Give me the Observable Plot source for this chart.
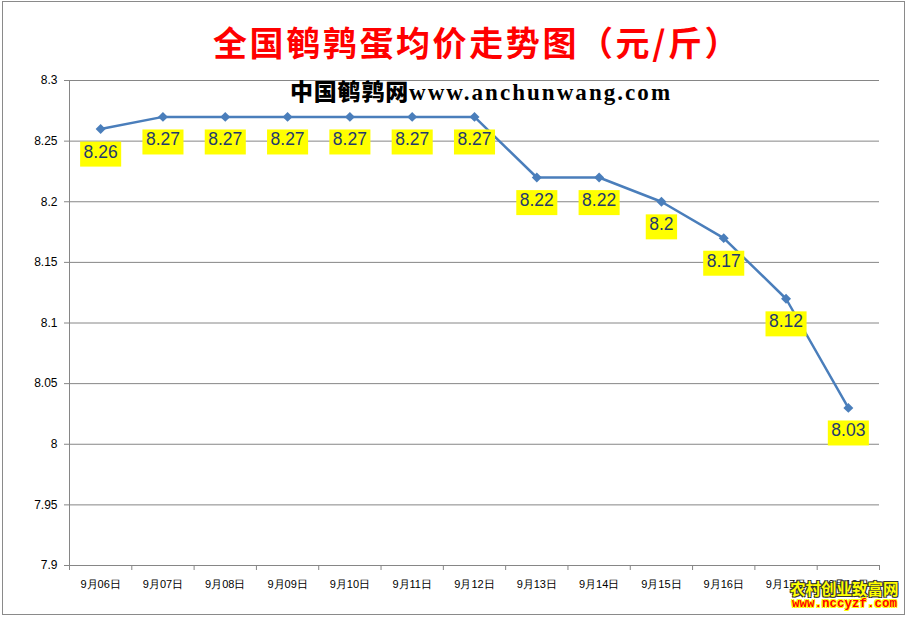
<!DOCTYPE html>
<html>
<head>
<meta charset="utf-8">
<script src="https://cdn.jsdelivr.net/npm/d3@7"></script>
<script src="https://cdn.jsdelivr.net/npm/@observablehq/plot@0.6"></script>
<style>
  html, body { margin: 0; padding: 0; background: #fff; }
  #wrap { position: relative; width: 907px; height: 617px; overflow: hidden; background: #fff; }
  #border { position: absolute; left: 2px; top: 1px; width: 903px; height: 614px; box-sizing: border-box; border: 1px solid #8a8a8a; pointer-events: none; }
  #title { height: 62px; position: relative; }
  #title span { position: absolute; left: 213px; top: 25px; font: bold 34px/34px "Noto Sans CJK SC", sans-serif; color: #ff0000; white-space: nowrap; letter-spacing: 2.6px; }
  #subtitle { position: absolute; left: 290px; top: 73px; white-space: nowrap; line-height: 24px; color: #000; z-index: 2; }
  #subtitle .cn { font: 900 23px "Noto Sans CJK SC", sans-serif; letter-spacing: 0.8px; }
  #subtitle .en { font: bold 23px "Liberation Serif", serif; letter-spacing: 2.05px; }
  #chart { position: absolute; left: 0; top: 62px; }
  #wm { position: absolute; left: 790px; top: 580px; z-index: 3; white-space: nowrap; }
  #wm .a { font: bold 15.5px/17px "Noto Sans CJK SC", sans-serif; color: #ffff00;
           text-shadow: -1px -1px 0 #333, 1px -1px 0 #333, -1px 1px 0 #333, 1px 1px 0 #333; letter-spacing: 0px; }
  #wm .b { font: bold 12.5px/14px "Liberation Mono", monospace; color: #ff0000; margin-left: 2px;
           text-shadow: -1px -1px 0 #ffff00, 1px -1px 0 #ffff00, -1px 1px 0 #ffff00, 1px 1px 0 #ffff00; letter-spacing: 0px; }
</style>
</head>
<body>
<div id="wrap">
  <div id="title"><span>全国鹌鹑蛋均价走势图（元/斤）</span></div>
  <div id="subtitle"><span class="cn">中国鹌鹑网</span><span class="en">www.anchunwang.com</span></div>
  <div id="chart"></div>
  <div id="wm"><div class="a">农村创业致富网</div><div class="b">www.nccyzf.com</div></div>
  <div id="border"></div>
</div>
<script>
const dates = ["9月06日","9月07日","9月08日","9月09日","9月10日","9月11日","9月12日","9月13日","9月14日","9月15日","9月16日","9月17日","9月18日"];
const prices = [8.26, 8.27, 8.27, 8.27, 8.27, 8.27, 8.27, 8.22, 8.22, 8.2, 8.17, 8.12, 8.03];
const yTicks = [7.9, 7.95, 8, 8.05, 8.1, 8.15, 8.2, 8.25, 8.3];

const data = dates.map((d, i) => ({i, date: d, price: prices[i]}));
const centers = d3.range(dates.length);
const bounds = d3.range(dates.length + 1).map(k => k - 0.5);
const grey = "#868686";

const chart = Plot.plot({
  width: 907,
  height: 555,
  marginTop: 18,
  marginBottom: 52,
  marginLeft: 69,
  marginRight: 28,
  style: {fontFamily: "Liberation Sans, Arial, sans-serif", color: "#000", background: "transparent", overflow: "visible"},
  x: {type: "linear", domain: [-0.5, dates.length - 0.5]},
  y: {domain: [7.9, 8.3]},
  marks: [
    Plot.gridY(yTicks, {stroke: grey, strokeOpacity: 1}),
    Plot.ruleX([-0.5], {stroke: grey}),
    Plot.axisY(yTicks, {tickSize: 5, tickPadding: 7, stroke: grey, fill: "#000", fontSize: 12, label: null,
      tickFormat: d => String(+d.toFixed(2))}),
    Plot.axisX(bounds, {tickSize: 5, stroke: grey, tickFormat: () => "", label: null}),
    Plot.axisX(centers, {tickSize: 0, tickPadding: 15, fontSize: 11, fill: "#000", label: null,
      tickFormat: i => dates[i]}),
    Plot.line(data, {x: "i", y: "price", stroke: "#4A7EBB", strokeWidth: 2.5}),
    Plot.dot(data, {x: "i", y: "price", symbol: "diamond2", r: 4.5, fill: "#4A7EBB", stroke: "none"}),
    Plot.text(data, {x: "i", y: "price", text: d => String(d.price), dy: 23, fontSize: 17.5, fill: "#1F3A6E",
      fontFamily: "Liberation Sans, Arial, sans-serif"})
  ]
});

document.getElementById("chart").appendChild(chart);

// yellow label boxes behind the value labels
chart.querySelectorAll('g[aria-label="text"] text').forEach(t => {
  const b = t.getBBox();
  const r = document.createElementNS("http://www.w3.org/2000/svg", "rect");
  r.setAttribute("x", b.x - 3.5);
  r.setAttribute("y", b.y);
  r.setAttribute("width", b.width + 7);
  r.setAttribute("height", b.height + 5);
  r.setAttribute("fill", "#ffff00");
  const tr = t.getAttribute("transform");
  if (tr) r.setAttribute("transform", tr);
  t.parentNode.insertBefore(r, t);
});
</script>
</body>
</html>
